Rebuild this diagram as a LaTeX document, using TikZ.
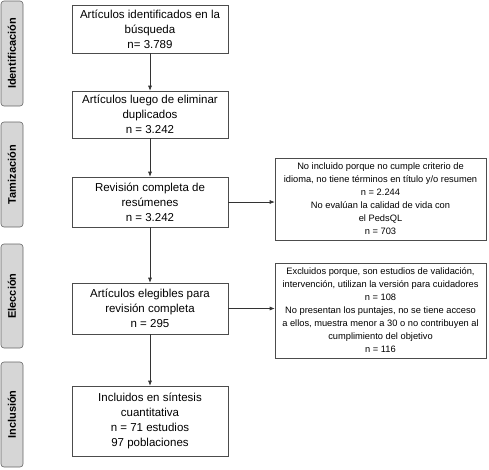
\documentclass[tikz,border=0pt]{standalone}
\usepackage{fontspec}
\setmainfont{Liberation Sans}
\usetikzlibrary{positioning,arrows.meta}

\begin{document}
\begin{tikzpicture}[
  x=1pt, y=-1pt,
  stage/.style={draw=black!60, rounded corners=3pt, fill=black!16, line width=0.6pt,
                minimum width=22pt, inner sep=0pt, font=\bfseries\fontsize{11}{12}\selectfont},
  flowbox/.style={draw=black!70, line width=0.6pt, align=center, minimum width=156pt,
                  inner sep=0pt, font=\fontsize{11.5}{15}\selectfont},
  notebox/.style={draw=black!70, line width=0.6pt, align=center, minimum width=211pt,
                  inner sep=0pt, font=\fontsize{9.3}{13}\selectfont},
  flow/.style={-{Latex[length=5pt,width=4pt]}, line width=0.6pt, black!80},
]
  \useasboundingbox (0,0) rectangle (489,469);

  % Phases on the left
  \node[stage, minimum height=105pt] (sId) at (12,53.5)
    {\rotatebox{90}{Identificación}};
  \node[stage, minimum height=105pt] (sTam) at (12,174.5)
    {\rotatebox{90}{Tamización}};
  \node[stage, minimum height=104pt] (sEle) at (12,296)
    {\rotatebox{90}{Elección}};
  \node[stage, minimum height=105pt] (sInc) at (12,414.5)
    {\rotatebox{90}{Inclusión}};

  % Main flow
  \node[flowbox, minimum height=48pt] (found) at (150,29)
    {Artículos identificados en la\\ búsqueda\\ n= 3.789};
  \node[flowbox, minimum height=47pt] (dedup) at (150,114.5)
    {Artículos luego de eliminar\\ duplicados\\ n = 3.242};
  \node[flowbox, minimum height=50pt] (abstr) at (150,202)
    {Revisión completa de\\ resúmenes\\ n = 3.242};
  \node[flowbox, minimum height=51pt] (elig) at (150,308.5)
    {Artículos elegibles para\\ revisión completa\\ n = 295};
  \node[flowbox, minimum height=70pt] (incl) at (150,421)
    {Incluidos en síntesis\\ cuantitativa\\ n = 71 estudios\\ 97 poblaciones};

  % Exclusions
  \node[notebox, minimum height=82pt] (excA) at (380.5,199)
    {No incluido porque no cumple criterio de\\
     idioma, no tiene términos en título y/o resumen\\
     n = 2.244\\ No evalúan la calidad de vida con\\ el PedsQL\\ n = 703};
  \node[notebox, minimum height=95pt] (excB) at (380.5,310.5)
    {Excluidos porque, son estudios de validación,\\
     intervención, utilizan la versión para cuidadores\\
     n = 108\\ No presentan los puntajes, no se tiene acceso\\
     a ellos, muestra menor a 30 o no contribuyen al\\
     cumplimiento del objetivo\\ n = 116};

  \draw[flow] (found) -- (dedup);
  \draw[flow] (dedup) -- (abstr);
  \draw[flow] (abstr) -- (elig);
  \draw[flow] (elig) -- (incl);
  \draw[flow] (abstr.east) -- (excA.west |- abstr.east);
  \draw[flow] (elig.east) -- (excB.west |- elig.east);
\end{tikzpicture}
\end{document}
